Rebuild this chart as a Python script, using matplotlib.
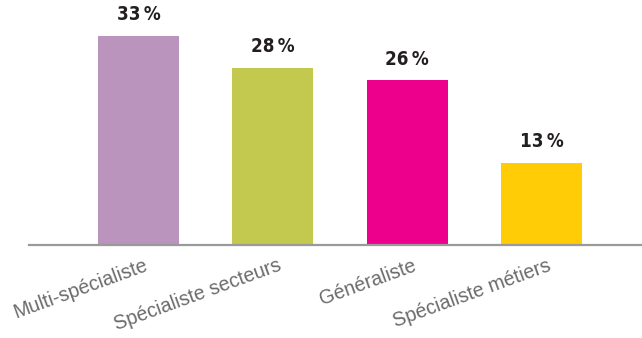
import matplotlib
matplotlib.use("Agg")
import matplotlib.pyplot as plt
from matplotlib.transforms import offset_copy

categories = ["Multi-spécialiste", "Spécialiste secteurs", "Généraliste", "Spécialiste métiers"]
values = [33, 28, 26, 13]
colors = ["#BA94BD", "#C3C84E", "#EC008C", "#FFCC05"]

W, H = 642, 338
fig = plt.figure(figsize=(W / 100, H / 100), dpi=100)
ax = fig.add_axes([29 / W, (H - 245) / H, 1 - 29 / W, 245 / H])

x = list(range(len(categories)))
ax.bar(x, values, width=0.603, color=colors, zorder=2)

ax.set_xlim(-0.815, 3.748)
ax.set_ylim(0, 38.7)

for side in ("top", "right", "left"):
    ax.spines[side].set_visible(False)
ax.spines["bottom"].set_color("#9a9a9a")
ax.spines["bottom"].set_linewidth(1.6)
ax.set_yticks([])
ax.set_xticks([])

# value labels above each bar
for xi, v in zip(x, values):
    ax.annotate(f"{v}\u2009%", xy=(xi, v), xytext=(0, 8.5), textcoords="offset points",
                ha="center", va="bottom", fontsize=13.5, fontweight="bold",
                fontstretch="condensed", color="#231f20",
                family=["DejaVu Sans"])

# slanted category labels under the axis
for xi, cat in zip(x, categories):
    tr = offset_copy(ax.get_xaxis_transform(), fig=fig, x=5, y=-11, units="dots")
    ax.text(xi, 0, cat, transform=tr, rotation=20, rotation_mode="anchor",
            ha="right", va="top", fontsize=14.2, color="#6b6b6b",
            family=["Liberation Sans", "DejaVu Sans"])

fig.savefig("out.png", dpi=100)
